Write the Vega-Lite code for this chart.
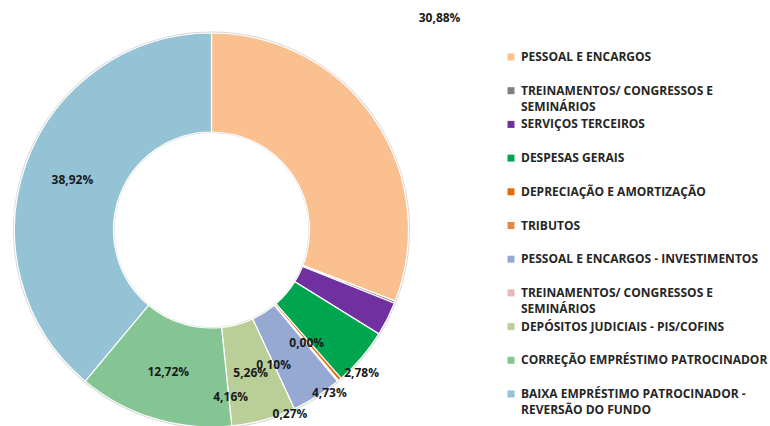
{
  "$schema": "https://vega.github.io/schema/vega-lite/v6.json",
  "width": 423,
  "height": 392,
  "autosize": {"type": "none"},
  "padding": {"left": 0, "top": 34, "right": 347, "bottom": 0},
  "background": "white",
  "config": {
    "view": {"stroke": null},
    "style": {"guide-label": {"lineHeight": 16}},
    "locale": {"number": {"decimal": ",", "thousands": ".", "grouping": [3], "currency": ["R$ ", ""]}}
  },
  "data": {
    "values": [
      {"ordem": 1, "categoria": "PESSOAL E ENCARGOS", "valor": 0.3088},
      {"ordem": 2, "categoria": "TREINAMENTOS/ CONGRESSOS E SEMINÁRIOS", "valor": 0.0018},
      {"ordem": 3, "categoria": "SERVIÇOS TERCEIROS", "valor": 0.0278},
      {"ordem": 4, "categoria": "DESPESAS GERAIS", "valor": 0.0473},
      {"ordem": 5, "categoria": "DEPRECIAÇÃO E AMORTIZAÇÃO", "valor": 0.0027},
      {"ordem": 6, "categoria": "TRIBUTOS", "valor": 0.0010},
      {"ordem": 7, "categoria": "PESSOAL E ENCARGOS - INVESTIMENTOS", "valor": 0.0416},
      {"ordem": 8, "categoria": "TREINAMENTOS/ CONGRESSOS E SEMINÁRIOS ", "valor": 0},
      {"ordem": 9, "categoria": "DEPÓSITOS JUDICIAIS - PIS/COFINS", "valor": 0.0526},
      {"ordem": 10, "categoria": "CORREÇÃO EMPRÉSTIMO PATROCINADOR", "valor": 0.1272},
      {"ordem": 11, "categoria": "BAIXA EMPRÉSTIMO PATROCINADOR - REVERSÃO DO FUNDO", "valor": 0.3892}
    ]
  },
  "encoding": {
    "theta": {"field": "valor", "type": "quantitative", "stack": true},
    "order": {"field": "ordem", "type": "quantitative", "sort": "ascending"}
  },
  "layer": [
    {
      "mark": {"type": "arc", "outerRadius": 198.5, "innerRadius": 97, "color": "#d6d6d6"},
      "encoding": {"detail": {"field": "categoria"}}
    },
    {
      "mark": {"type": "arc", "outerRadius": 197, "innerRadius": 98, "stroke": "white", "strokeWidth": 1.2},
      "encoding": {
        "color": {
          "field": "categoria",
          "type": "nominal",
          "scale": {
            "domain": ["PESSOAL E ENCARGOS", "TREINAMENTOS/ CONGRESSOS E SEMINÁRIOS", "SERVIÇOS TERCEIROS", "DESPESAS GERAIS", "DEPRECIAÇÃO E AMORTIZAÇÃO", "TRIBUTOS", "PESSOAL E ENCARGOS - INVESTIMENTOS", "TREINAMENTOS/ CONGRESSOS E SEMINÁRIOS ", "DEPÓSITOS JUDICIAIS - PIS/COFINS", "CORREÇÃO EMPRÉSTIMO PATROCINADOR", "BAIXA EMPRÉSTIMO PATROCINADOR - REVERSÃO DO FUNDO"],
            "range": ["#FAC090", "#7F7F7F", "#7030A0", "#00A550", "#E46C0A", "#E08A45", "#95A9D2", "#E6B9B8", "#BACF98", "#85C593", "#93C3D5"]
          },
          "legend": {
            "title": null,
            "orient": "none",
            "legendX": 505,
            "legendY": 17,
            "direction": "vertical",
            "symbolType": "square",
            "symbolSize": 49,
            "symbolStrokeWidth": 0,
            "labelFont": "Open Sans",
            "labelFontSize": 12,
            "labelFontWeight": "bold",
            "labelColor": "#262626",
            "labelLimit": 400,
            "labelOffset": 4,
            "labelBaseline": "middle",
            "rowPadding": 5.7,
            "gridAlign": "all",
            "padding": 0,
            "labelExpr": "split(replace(replace(datum.label, 'CONGRESSOS E ', 'CONGRESSOS E|'), 'PATROCINADOR - ', 'PATROCINADOR -|'), '|')"
          }
        }
      }
    },
    {
      "mark": {"type": "text", "radius": 148, "font": "Open Sans", "fontWeight": "bold", "fontSize": 12, "color": "#1a1a1a"},
      "encoding": {"detail": {"field": "categoria"}, "text": {"condition": {"test": "datum.ordem >= 9", "field": "valor", "type": "quantitative", "format": ".2%"}, "value": ""}}
    },
    {
      "mark": {"type": "text", "radius": 148, "dx": 106, "dy": -128, "font": "Open Sans", "fontWeight": "bold", "fontSize": 12, "color": "#1a1a1a"},
      "encoding": {"detail": {"field": "categoria"}, "text": {"condition": {"test": "datum.ordem == 1", "field": "valor", "type": "quantitative", "format": ".2%"}, "value": ""}}
    },
    {
      "mark": {"type": "text", "radius": 148, "dx": 18, "dy": 76, "font": "Open Sans", "fontWeight": "bold", "fontSize": 12, "color": "#1a1a1a"},
      "encoding": {"detail": {"field": "categoria"}, "text": {"condition": {"test": "datum.ordem == 3", "field": "valor", "type": "quantitative", "format": ".2%"}, "value": ""}}
    },
    {
      "mark": {"type": "text", "radius": 148, "dx": 5, "dy": 67, "font": "Open Sans", "fontWeight": "bold", "fontSize": 12, "color": "#1a1a1a"},
      "encoding": {"detail": {"field": "categoria"}, "text": {"condition": {"test": "datum.ordem == 4", "field": "valor", "type": "quantitative", "format": ".2%"}, "value": ""}}
    },
    {
      "mark": {"type": "text", "radius": 148, "dx": -18, "dy": 72, "font": "Open Sans", "fontWeight": "bold", "fontSize": 12, "color": "#1a1a1a"},
      "encoding": {"detail": {"field": "categoria"}, "text": {"condition": {"test": "datum.ordem == 5", "field": "valor", "type": "quantitative", "format": ".2%"}, "value": ""}}
    },
    {
      "mark": {"type": "text", "radius": 148, "dx": -33, "dy": 22, "font": "Open Sans", "fontWeight": "bold", "fontSize": 12, "color": "#1a1a1a"},
      "encoding": {"detail": {"field": "categoria"}, "text": {"condition": {"test": "datum.ordem == 6", "field": "valor", "type": "quantitative", "format": ".2%"}, "value": ""}}
    },
    {
      "mark": {"type": "text", "radius": 148, "dx": -60, "dy": 42, "font": "Open Sans", "fontWeight": "bold", "fontSize": 12, "color": "#1a1a1a"},
      "encoding": {"detail": {"field": "categoria"}, "text": {"condition": {"test": "datum.ordem == 7", "field": "valor", "type": "quantitative", "format": ".2%"}, "value": ""}}
    },
    {
      "mark": {"type": "text", "radius": 148, "dx": 33, "dy": -21, "font": "Open Sans", "fontWeight": "bold", "fontSize": 12, "color": "#1a1a1a"},
      "encoding": {"detail": {"field": "categoria"}, "text": {"condition": {"test": "datum.ordem == 8", "field": "valor", "type": "quantitative", "format": ".2%"}, "value": ""}}
    }
  ]
}
